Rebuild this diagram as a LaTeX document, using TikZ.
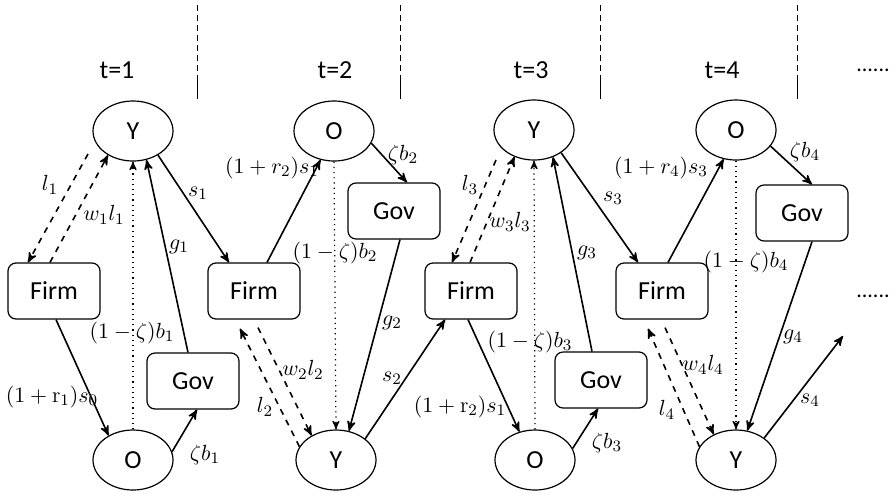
\documentclass[tikz,border=0pt]{standalone}
\usepackage{fontspec}
\newfontfamily\carl{Carlito}
\usetikzlibrary{calc}
\usetikzlibrary{arrows}
\usetikzlibrary{shapes.geometric}
\usepackage{amsmath}

\tikzset{
  agent/.style={ellipse, draw, semithick, minimum width=40pt, minimum height=30pt, inner sep=0pt, font=\carl\fontsize{13}{15}\selectfont},
  sector/.style={draw, semithick, rounded corners=4pt, minimum width=46pt, minimum height=28pt, inner sep=0pt, font=\carl\fontsize{13}{15}\selectfont},
  flow/.style={black, thick, ->, >=stealth'},
  labour/.style={flow, dashed},
  transfer/.style={black, semithick, dotted, ->, >=stealth'},
  lab/.style={inner sep=1pt, font=\fontsize{11}{13}\selectfont},
  period/.style={font=\carl\fontsize{13}{15}\selectfont},
}

\begin{document}
\begin{tikzpicture}[x=0.5pt, y=-0.5pt]
\useasboundingbox (0,0) rectangle (892,493);
\foreach \x/\t in {117/1,335/2,531/3,722/4} \node[period] (t\t) at (\x,70) {t=\t};
\node[period, font=\carl\fontsize{11}{13}\selectfont] (moreT) at (873,70) {......};
\foreach \x in {197,400,600,797} {
  \draw[densely dashed] (\x,5) -- (\x,76);
  \draw (\x,76) -- (\x,99);
}

% t=1
\node[agent] (Y1) at (133,131) {Y};
\node[sector] (F1) at (54,291) {Firm};
\node[agent] (O1) at (133,460) {O};
\node[sector] (G1) at (193,381) {Gov};
% t=2
\node[agent] (O2) at (334,131) {O};
\node[sector] (F2) at (254,291) {Firm};
\node[sector] (G2) at (394,211) {Gov};
\node[agent] (Y2) at (336,460) {Y};
% t=3
\node[agent] (Y3) at (534,130) {Y};
\node[sector] (F3) at (471,291) {Firm};
\node[agent] (O3) at (535,460) {O};
\node[sector] (G3) at (601,380) {Gov};
% t=4
\node[agent] (O4) at (736,130) {O};
\node[sector] (F4) at (662,291) {Firm};
\node[sector] (G4) at (802,213) {Gov};
\node[agent] (Y4) at (736,460) {Y};
\coordinate (next) at (843,336);
\node[period, font=\carl\fontsize{11}{13}\selectfont] (moreF) at (873,296) {......};

% flows t=1
\draw[labour] ($(Y1)+(-45,23)$) -- ($(F1.north)+(-26,0)$);
\draw[labour] ($(F1.north)+(-4,0)$) -- (Y1.224);
\draw[transfer] (O1.north) -- (Y1.south);
\draw[flow] ($(G1.north)+(-5,0)$) -- (Y1.295);
\draw[flow] (Y1.316) -- ($(F2.north)+(-25,0)$);
\draw[flow] ($(F1.south)+(2,0)$) -- (O1.135);
\draw[flow] (O1.12) -- ($(G1.south)+(4,0)$);
\node[lab] (l1) at (50,185) {$l_1$};
\node[lab] (wl1) at (104,215) {$w_1l_1$};
\node[lab] (g1) at (179,247) {$g_1$};
\node[lab] (s1) at (198,193) {$s_1$};
\node[lab] (b1) at (132,333) {$(1-\zeta)b_1$};
\node[lab] (rs0) at (52,397) {$(1+\mathrm{r}_1)s_0$};
\node[lab] (zb1) at (205,455) {$\zeta b_1$};

% flows t=2
\draw[flow] ($(F2.north)+(13,0)$) -- (O2.245);
\draw[flow] (O2.342) -- ($(G2.north)+(13,0)$);
\draw[transfer] (O2.south) -- (Y2.north);
\draw[flow] ($(G2.south)+(6,0)$) -- (Y2.66);
\draw[flow] (Y2.36) -- ($(F3.south)+(-26,0)$);
\draw[labour] (Y2.160) -- ($(F2.south)+(-14,9)$);
\draw[labour] ($(F2.south)+(4,8)$) -- (Y2.135);
\node[lab] (rs1) at (272,168) {$(1+r_2)s_1$};
\node[lab] (zb2) at (403,155) {$\zeta b_2$};
\node[lab] (b2) at (335,253) {$(1-\zeta)b_2$};
\node[lab] (g2) at (392,323) {$g_2$};
\node[lab] (s2) at (392,378) {$s_2$};
\node[lab] (wl2) at (303,370) {$w_2l_2$};
\node[lab] (l2) at (265,407) {$l_2$};

% flows t=3
\draw[labour] ($(Y3)+(-38,30)$) -- ($(F3.north)+(-19,0)$);
\draw[labour] ($(F3.north)+(-1,0)$) -- (Y3.234);
\draw[transfer] (O3.north) -- (Y3.south);
\draw[flow] ($(G3.north)+(-9,0)$) -- (Y3.305);
\draw[flow] (Y3.320) -- ($(F4.north)+(-24,0)$);
\draw[flow] ($(F3.south)+(-3,0)$) -- (O3.119);
\draw[flow] (O3.17) -- ($(G3.south)+(-3,0)$);
\node[lab] (l3) at (470,185) {$l_3$};
\node[lab] (wl3) at (510,222) {$w_3l_3$};
\node[lab] (b3) at (530,342) {$(1-\zeta)b_3$};
\node[lab] (g3) at (587,253) {$g_3$};
\node[lab] (s3) at (613,198) {$s_3$};
\node[lab] (rs1b) at (460,407) {$(1+\mathrm{r}_2)s_1$};
\node[lab] (zb3) at (607,443) {$\zeta b_3$};

% flows t=4
\draw[flow] ($(F4.north)+(6,0)$) -- (O4.247);
\draw[flow] (O4.335) -- ($(G4.north)+(10,0)$);
\draw[transfer] (O4.south) -- (Y4.north);
\draw[flow] ($(G4.south)+(10,0)$) -- (Y4.69);
\draw[flow] (Y4.38) -- (next);
\draw[labour] (Y4.160) -- ($(F4.south)+(-14,9)$);
\draw[labour] ($(F4.south)+(3,8)$) -- (Y4.131);
\node[lab] (rs3) at (661,168) {$(1+r_4)s_3$};
\node[lab] (zb4) at (805,152) {$\zeta b_4$};
\node[lab] (b4) at (746,262) {$(1-\zeta)b_4$};
\node[lab] (g4) at (793,337) {$g_4$};
\node[lab] (s4) at (810,400) {$s_4$};
\node[lab] (wl4) at (703,365) {$w_4l_4$};
\node[lab] (l4) at (667,410) {$l_4$};
\end{tikzpicture}
\end{document}
